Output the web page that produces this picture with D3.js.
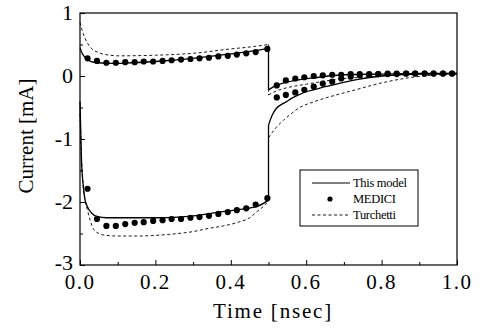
<!DOCTYPE html>
<html>
<head>
<meta charset="utf-8">
<script src="https://cdn.jsdelivr.net/npm/d3@7"></script>
<style>
  body { margin: 0; background: #fff; }
  text { font-family: "Liberation Serif", "Times New Roman", serif; fill: #000; }
</style>
</head>
<body>
<div id="place"></div>
<script>
// valeurs (temps en ns, courant en mA)
const modelUpperPreT = [0, 0.005, 0.01, 0.02, 0.03, 0.05, 0.08, 0.12, 0.2, 0.3, 0.4, 0.45, 0.5];
const modelUpperPreI = [0.45, 0.37, 0.32, 0.26, 0.23, 0.21, 0.2, 0.205, 0.23, 0.28, 0.35, 0.39, 0.44];
const modelUpperPostT = [0.5, 0.52, 0.54, 0.58, 0.62, 0.66, 0.7, 0.8, 0.9, 1.0];
const modelUpperPostI = [-0.22, -0.15, -0.11, -0.06, -0.03, 0.0, 0.02, 0.03, 0.04, 0.04];
const modelLowerPreT = [0, 0.004, 0.008, 0.013, 0.02, 0.03, 0.045, 0.07, 0.1, 0.2, 0.26, 0.3, 0.37, 0.42, 0.47, 0.5];
const modelLowerPreI = [-0.4, -1.35, -1.7, -1.95, -2.08, -2.17, -2.23, -2.25, -2.25, -2.25, -2.24, -2.22, -2.16, -2.12, -2.07, -1.97];
const modelLowerPostT = [0.5, 0.51, 0.52, 0.535, 0.547, 0.56, 0.58, 0.6, 0.626, 0.65, 0.68, 0.73, 0.8, 0.9, 1.0];
const modelLowerPostI = [-0.78, -0.62, -0.52, -0.45, -0.41, -0.36, -0.3, -0.25, -0.21, -0.17, -0.13, -0.06, 0.0, 0.03, 0.04];

const turUpperPreT = [0, 0.005, 0.01, 0.02, 0.03, 0.05, 0.08, 0.1, 0.2, 0.3, 0.4, 0.45, 0.5];
const turUpperPreI = [0.85, 0.74, 0.65, 0.52, 0.44, 0.37, 0.33, 0.32, 0.33, 0.36, 0.43, 0.46, 0.5];
const turUpperPostT = [0.5, 0.52, 0.54, 0.57, 0.6, 0.65, 0.7, 0.75, 0.85, 1.0];
const turUpperPostI = [-0.3, -0.24, -0.2, -0.16, -0.13, -0.08, -0.04, -0.02, 0.02, 0.04];
const turLowerPreT = [0, 0.005, 0.01, 0.02, 0.035, 0.05, 0.07, 0.1, 0.15, 0.2, 0.26, 0.3, 0.34, 0.38, 0.42, 0.45, 0.47, 0.49, 0.5];
const turLowerPreI = [-0.6, -1.44, -1.85, -2.13, -2.42, -2.5, -2.53, -2.54, -2.54, -2.53, -2.5, -2.47, -2.42, -2.38, -2.32, -2.25, -2.15, -2.05, -1.98];
const turLowerPostT = [0.5, 0.52, 0.54, 0.56, 0.58, 0.62, 0.68, 0.73, 0.8, 0.87, 0.93, 1.0];
const turLowerPostI = [-0.98, -0.82, -0.7, -0.6, -0.51, -0.41, -0.3, -0.22, -0.11, -0.03, 0.01, 0.03];

const mediciPreT = [0.02, 0.045, 0.07, 0.095, 0.12, 0.145, 0.169, 0.194, 0.219, 0.243, 0.268, 0.293, 0.317, 0.342, 0.367, 0.392, 0.416, 0.441, 0.466, 0.497];
const mediciUpperPreI = [0.28, 0.24, 0.21, 0.21, 0.22, 0.22, 0.23, 0.23, 0.24, 0.25, 0.26, 0.27, 0.28, 0.29, 0.31, 0.32, 0.34, 0.36, 0.38, 0.43];
const mediciLowerPreI = [-1.79, -2.27, -2.38, -2.38, -2.35, -2.33, -2.32, -2.3, -2.29, -2.27, -2.27, -2.25, -2.24, -2.22, -2.19, -2.16, -2.13, -2.1, -2.04, -1.94];
const mediciPostT = [0.522, 0.546, 0.571, 0.595, 0.62, 0.644, 0.669, 0.693, 0.718, 0.742, 0.767, 0.791, 0.816, 0.84, 0.865, 0.889, 0.914, 0.938, 0.963, 0.987];
const mediciUpperPostI = [-0.15, -0.07, -0.04, -0.02, 0.0, 0.01, 0.02, 0.02, 0.03, 0.03, 0.03, 0.03, 0.04, 0.04, 0.04, 0.04, 0.04, 0.04, 0.04, 0.04];
const mediciLowerPostI = [-0.34, -0.3, -0.26, -0.22, -0.17, -0.12, -0.09, -0.04, -0.01, 0.01, 0.02, 0.03, 0.03, 0.03, 0.04, 0.04, 0.04, 0.04, 0.04, 0.04];

const xTicks = [0, 0.2, 0.4, 0.6, 0.8, 1.0];
const yTicks = [1, 0, -1, -2, -3];
const legendLabels = ["This model", "MEDICI", "Turchetti"];

const W = 481, H = 333;
const margin = { top: 13, right: 24, bottom: 68, left: 80 };

let svg = d3.select("#place").append("svg")
    .attr("width", W)
    .attr("height", H);

let x = d3.scaleLinear().domain([0, 1]).range([margin.left, W - margin.right]);
let y = d3.scaleLinear().domain([-3, 1]).range([H - margin.bottom, margin.top]);

const zip = (ts, is) => ts.map((t, k) => [t, is[k]]);

// cadre
svg.append("rect")
    .attr("x", x(0)).attr("y", y(1))
    .attr("width", x(1) - x(0)).attr("height", y(-3) - y(1))
    .attr("fill", "none").attr("stroke", "#000").attr("stroke-width", 1.2);

// axes avec ticks vers l'intérieur
let xAxis = svg.append("g")
    .attr("transform", "translate(0," + y(-3) + ")")
    .call(d3.axisBottom(x).tickValues(d3.range(0, 1.01, 0.1)).tickSize(-3).tickFormat(""));
xAxis.selectAll(".tick line").filter((d, k) => k % 2 === 0).attr("y2", -5);
xAxis.select(".domain").remove();

svg.append("g").selectAll("text")
    .data(xTicks)
    .join("text")
    .attr("x", d => x(d))
    .attr("y", y(-3) + 24)
    .attr("text-anchor", "middle")
    .attr("font-size", 21)
    .attr("letter-spacing", 1.5)
    .text(d => d3.format(".1f")(d));

let yAxis = svg.append("g")
    .attr("transform", "translate(" + x(0) + ",0)")
    .call(d3.axisLeft(y).tickValues(d3.range(-3, 1.01, 0.5)).tickSize(-3).tickFormat(""));
yAxis.selectAll(".tick line").filter(d => Number.isInteger(d)).attr("x2", 5);
yAxis.select(".domain").remove();

svg.append("g").selectAll("text")
    .data(yTicks)
    .join("text")
    .attr("x", x(0) - 7)
    .attr("y", d => y(d))
    .attr("dy", d => d === -3 ? "0.22em" : "0.34em")
    .attr("text-anchor", "end")
    .attr("font-size", 22)
    .text(d => d);

// titres
svg.append("text")
    .attr("x", 273).attr("y", 318)
    .attr("text-anchor", "middle")
    .attr("font-size", 21)
    .attr("letter-spacing", 1.8)
    .text("Time [nsec]");

svg.append("text")
    .attr("transform", "translate(33," + 136 + ") rotate(-90)")
    .attr("text-anchor", "middle")
    .attr("font-size", 21)
    .text("Current [mA]");

// courbes
let line = d3.line()
    .x(d => x(d[0]))
    .y(d => y(d[1]))
    .curve(d3.curveMonotoneX);

let plot = svg.append("g");

function branch(preT, preI, postT, postI, dashed) {
    let pre = zip(preT, preI), post = zip(postT, postI);
    let segs = [pre, post, [pre[pre.length - 1], post[0]]];
    plot.append("g").selectAll("path")
        .data(segs)
        .join("path")
        .attr("d", line)
        .attr("fill", "none")
        .attr("stroke", "#000")
        .attr("stroke-width", dashed ? 0.9 : 1.3)
        .attr("stroke-dasharray", dashed ? "3,2.5" : null);
}

branch(turUpperPreT, turUpperPreI, turUpperPostT, turUpperPostI, true);
branch(turLowerPreT, turLowerPreI, turLowerPostT, turLowerPostI, true);
branch(modelUpperPreT, modelUpperPreI, modelUpperPostT, modelUpperPostI, false);
branch(modelLowerPreT, modelLowerPreI, modelLowerPostT, modelLowerPostI, false);

let dots = [].concat(
    zip(mediciPreT, mediciUpperPreI),
    zip(mediciPreT, mediciLowerPreI),
    zip(mediciPostT, mediciUpperPostI),
    zip(mediciPostT, mediciLowerPostI)
);

plot.append("g").selectAll("circle")
    .data(dots)
    .join("circle")
    .attr("cx", d => x(d[0]))
    .attr("cy", d => y(d[1]))
    .attr("r", 3.1)
    .attr("fill", "#000");

// légende
let leg = svg.append("g").attr("transform", "translate(300,170)");
leg.append("rect")
    .attr("width", 118).attr("height", 56)
    .attr("fill", "#fff").attr("stroke", "#000").attr("stroke-width", 1);

let legY = d3.scalePoint().domain(legendLabels).range([13, 45]);

leg.selectAll("text")
    .data(legendLabels)
    .join("text")
    .attr("x", 53)
    .attr("y", d => legY(d))
    .attr("dy", "0.35em")
    .attr("font-size", 12.5)
    .attr("letter-spacing", -0.3)
    .text(d => d);

leg.append("line")
    .attr("x1", 12).attr("x2", 50)
    .attr("y1", legY("This model")).attr("y2", legY("This model"))
    .attr("stroke", "#000").attr("stroke-width", 1);
leg.append("circle")
    .attr("cx", 30).attr("cy", legY("MEDICI")).attr("r", 2.6).attr("fill", "#000");
leg.append("line")
    .attr("x1", 12).attr("x2", 50)
    .attr("y1", legY("Turchetti")).attr("y2", legY("Turchetti"))
    .attr("stroke", "#000").attr("stroke-width", 0.9)
    .attr("stroke-dasharray", "3,2.5");
</script>
</body>
</html>
